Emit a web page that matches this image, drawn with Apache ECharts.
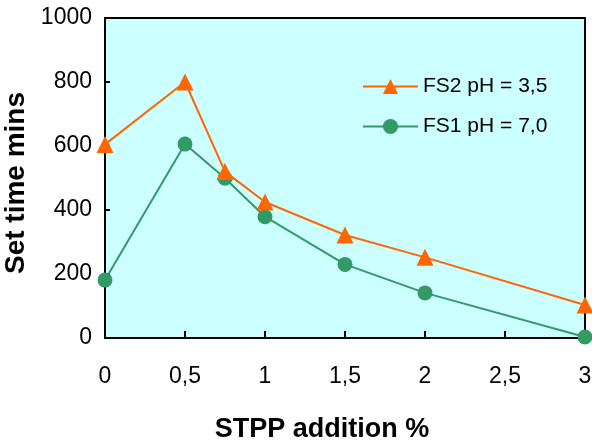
<!DOCTYPE html>
<html>
<head>
<meta charset="utf-8">
<script src="https://cdn.jsdelivr.net/npm/echarts@6/dist/echarts.min.js"></script>
<style>
  html, body { margin: 0; padding: 0; background: #fff; }
  #chart { width: 592px; height: 443px; }
</style>
</head>
<body>
<div id="chart"></div>
<script>
// STPP addition (%) on the x axis
const stppAddition = [0, 0.5, 0.75, 1, 1.5, 2, 3];
// Set time (mins) for each slip
const fs2Values = [605, 800, 520, 425, 322, 252, 103];
const fs1Values = [181, 606, 499, 379, 230, 141, 3];
const fs2Name = 'FS2 pH = 3,5';
const fs1Name = 'FS1 pH = 7,0';
const xTitle = 'STPP addition %';
const yTitle = 'Set time mins';

const font = 'Arial, "Liberation Sans", sans-serif';
const pairs = (xs, ys) => xs.map((x, i) => [x, ys[i]]);

const chart = echarts.init(document.getElementById('chart'));
chart.setOption({
  animation: false,
  textStyle: { fontFamily: font },
  grid: {
    left: 105, right: 7, top: 18, bottom: 105,
    outerBoundsMode: 'none',
    show: true, backgroundColor: '#CCFFFF',
    borderColor: '#000', borderWidth: 2
  },
  legend: {
    orient: 'vertical',
    left: 362, top: 76, padding: 0,
    itemWidth: 55, itemHeight: 19, itemGap: 19,
    textStyle: { fontSize: 21, color: '#000', fontFamily: font },
    data: [fs2Name, fs1Name]
  },
  xAxis: {
    type: 'value', min: 0, max: 3, interval: 0.5,
    name: xTitle, nameLocation: 'middle', nameGap: 78,
    nameTextStyle: { fontSize: 27, fontWeight: 'bold', color: '#000', padding: [0, 46, 0, 0] },
    axisLine: { lineStyle: { color: '#000', width: 2 } },
    axisTick: { inside: true, length: 7, lineStyle: { color: '#000', width: 2 } },
    axisLabel: {
      fontSize: 23, color: '#000', margin: 27,
      formatter: v => String(v).replace('.', ',')
    },
    splitLine: { show: false }
  },
  yAxis: {
    type: 'value', min: 0, max: 1000, interval: 200,
    name: yTitle, nameLocation: 'middle', nameGap: 69, nameRotate: 90,
    nameTextStyle: { fontSize: 28, fontWeight: 'bold', color: '#000', padding: [0, 10, 0, 0] },
    axisLine: { show: true, lineStyle: { color: '#000', width: 2 } },
    axisTick: { show: true, inside: true, length: 5, lineStyle: { color: '#000', width: 2 } },
    axisLabel: { fontSize: 23, color: '#000', margin: 13, formatter: v => String(v) },
    splitLine: { show: false }
  },
  series: [
    {
      name: fs2Name, type: 'line',
      data: pairs(stppAddition, fs2Values),
      symbol: 'triangle', symbolSize: 17,
      itemStyle: { color: '#FF6600' },
      lineStyle: { color: '#FF6600', width: 2 },
      clip: false, z: 3
    },
    {
      name: fs1Name, type: 'line',
      data: pairs(stppAddition, fs1Values),
      symbol: 'circle', symbolSize: 15,
      itemStyle: { color: '#339966' },
      lineStyle: { color: '#339966', width: 2 },
      clip: false, z: 2
    }
  ]
});
</script>
</body>
</html>
